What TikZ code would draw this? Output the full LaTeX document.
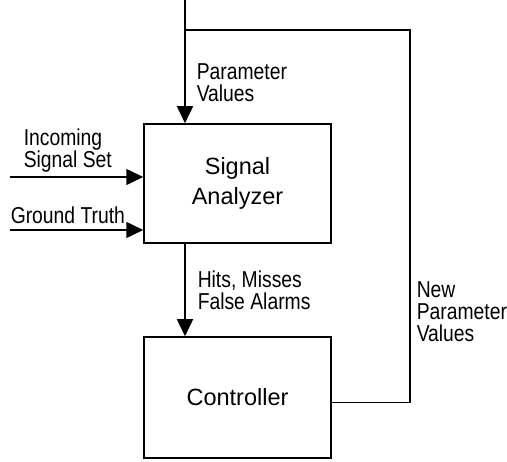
\documentclass[tikz,border=0pt]{standalone}
\usepackage{fontspec}
\setmainfont{Liberation Sans}
\newfontfamily\narrowfont[FakeStretch=0.84]{Liberation Sans}
\usetikzlibrary{arrows.meta,calc}
\begin{document}
\begin{tikzpicture}[x=1pt,y=-1pt,line width=1.5pt,
  box/.style={draw,minimum width=187pt,inner sep=0pt,align=center,font=\fontsize{23.5}{30}\selectfont},
  lab/.style={inner sep=0pt,align=left,font=\narrowfont\fontsize{23}{22}\selectfont},
  arr/.style={-{Triangle[length=17pt,width=16pt]}}]
\useasboundingbox (0,0) rectangle (507,462);
\node[box,minimum height=119pt] (sa) at (237.5,183.5) {Signal\\Analyzer};
\node[box,minimum height=121pt] (ctrl) at (237.5,397.5) {Controller};
\coordinate (top) at (185,0);
\coordinate (bend) at (185,30);
\coordinate (corner) at (410,30);
\coordinate (in1) at (10,177);
\coordinate (in2) at (10,230);
\coordinate (fb) at ($(ctrl.east)+(0,5)$);
\draw[arr] (top) -- (top |- sa.north);
\draw (bend) -- (corner) -- (corner |- fb) -- (fb);
\draw[arr] (sa.south -| top) -- (ctrl.north -| top);
\draw[arr] (in1) -- (in1 -| sa.west);
\draw[arr] (in2) -- (in2 -| sa.west);
\node[lab,anchor=base west] (pv) at (196,102) {Parameter\\Values};
\node[lab,anchor=base west] (iss) at (23,168) {Incoming\\Signal Set};
\node[lab,anchor=base west] (gt) at (10,224) {Ground Truth};
\node[lab,anchor=base west] (hm) at (197,310) {Hits, Misses\\False Alarms};
\node[lab,anchor=base west] (npv) at (416,342) {New\\Parameter\\Values};
\end{tikzpicture}
\end{document}
